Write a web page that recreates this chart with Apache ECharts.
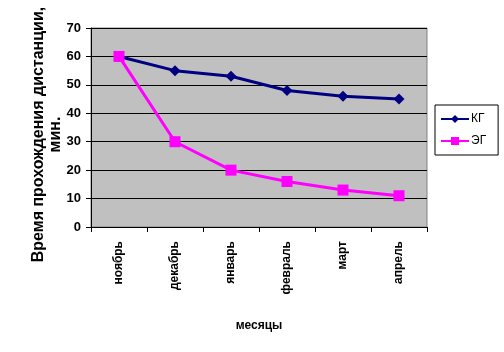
<!DOCTYPE html>
<html>
<head>
<meta charset="utf-8">
<script src="https://cdn.jsdelivr.net/npm/echarts@6/dist/echarts.min.js"></script>
<style>
  html, body { margin: 0; padding: 0; background: #fff; }
  #chart { width: 504px; height: 352px; }
</style>
</head>
<body>
<div id="chart"></div>
<script>
  const months = ['ноябрь', 'декабрь', 'январь', 'февраль', 'март', 'апрель'];
  const kgValues = [60, 55, 53, 48, 46, 45];
  const egValues = [60, 30, 20, 16, 13, 11];
  const yTicks = { min: 0, max: 70, step: 10 };

  const font = '"Liberation Sans", Arial, sans-serif';

  let myChart = echarts.init(document.getElementById('chart'), null, { renderer: 'canvas' });

  let options = {
    backgroundColor: '#ffffff',
    animation: false,
    textStyle: { fontFamily: font },
    grid: {
      left: 91,
      right: 77,
      top: 28,
      bottom: 125,
      outerBoundsMode: 'none',
      containLabel: false,
      show: true,
      backgroundColor: '#c0c0c0',
      borderColor: '#808080',
      borderWidth: 1
    },
    legend: {
      orient: 'vertical',
      left: 435,
      top: 105,
      padding: [8, 12, 8, 5],
      itemWidth: 28,
      itemHeight: 10,
      itemGap: 10,
      borderColor: '#000',
      borderWidth: 1,
      borderRadius: 0,
      textStyle: { fontSize: 12, color: '#000', fontFamily: font, padding: [0, 0, 0, -3] },
      data: ['КГ', 'ЭГ']
    },
    xAxis: {
      type: 'category',
      data: months,
      boundaryGap: true,
      name: 'месяцы',
      nameLocation: 'middle',
      nameGap: 93,
      nameMoveOverlap: false,
      nameTextStyle: { fontSize: 12, fontWeight: 'bold', color: '#000', fontFamily: font },
      axisLine: { lineStyle: { color: '#000', width: 1 } },
      axisTick: { show: true, interval: 0, length: 5, lineStyle: { color: '#000' } },
      axisLabel: {
        interval: 0,
        rotate: 90,
        margin: 14,
        fontSize: 12,
        fontWeight: 'bold',
        color: '#000',
        fontFamily: font
      },
      splitLine: { show: false }
    },
    yAxis: {
      type: 'value',
      min: yTicks.min,
      max: yTicks.max,
      interval: yTicks.step,
      name: 'Время прохождения дистанции,\nмин.',
      nameLocation: 'middle',
      nameGap: 27,
      nameMoveOverlap: false,
      nameTextStyle: {
        fontSize: 16,
        fontWeight: 'bold',
        color: '#000',
        fontFamily: font,
        lineHeight: 17,
        padding: [0, 14, 0, 0]
      },
      axisLine: { show: true, lineStyle: { color: '#000', width: 1 } },
      axisTick: { show: true, length: 5, lineStyle: { color: '#000' } },
      axisLabel: { margin: 10, fontSize: 13, fontWeight: 'bold', color: '#000', fontFamily: font },
      splitLine: { show: true, lineStyle: { color: '#000', width: 1 } }
    },
    series: [{
      name: 'КГ',
      type: 'line',
      data: kgValues,
      symbol: 'diamond',
      symbolSize: 11,
      color: '#000080',
      lineStyle: { color: '#000080', width: 3 },
      itemStyle: { color: '#000080' },
      z: 2
    }, {
      name: 'ЭГ',
      type: 'line',
      data: egValues,
      symbol: 'rect',
      symbolSize: 11,
      color: '#ff00ff',
      lineStyle: { color: '#ff00ff', width: 3 },
      itemStyle: { color: '#ff00ff' },
      z: 3
    }]
  };

  myChart.setOption(options);

  window.addEventListener('resize', function() {
    myChart.resize();
  });
</script>
</body>
</html>
